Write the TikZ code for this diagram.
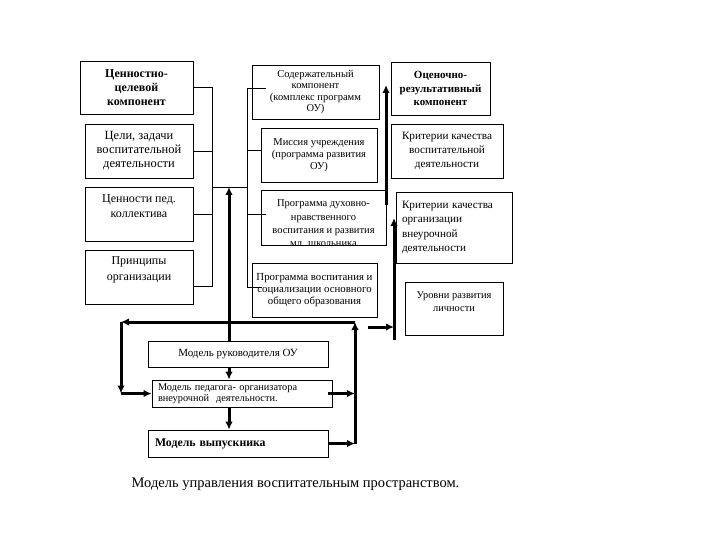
\documentclass[tikz,border=0pt]{standalone}
\usepackage{fontspec}
\setmainfont{Liberation Serif}
\usetikzlibrary{arrows.meta,positioning}

\begin{document}
\begin{tikzpicture}[x=1pt,y=-1pt,
  box/.style={draw,line width=0.7pt,inner sep=2pt,align=center},
  ln/.style={line width=0.7pt},
  thk/.style={line width=3pt},
  tip/.style={-{Latex[length=8pt,width=7.5pt]}},
  txt_l/.style={font=\fontsize{12}{14}\selectfont},
  txt_m/.style={font=\fontsize{11.2}{14}\selectfont},
  txt_s/.style={font=\fontsize{10.5}{12}\selectfont}]
   \useasboundingbox (0,0) rectangle (720,540);
   \node[box,font=\bfseries\fontsize{12}{14}\selectfont,minimum width=113pt,minimum height=53pt] (l_1) at (136.5,87.5) {Ценностно-\\целевой\\компонент};
   \node[box,font=\fontsize{12.5}{14}\selectfont,minimum width=108pt,minimum height=54pt] (l_2) at (139,151) {Цели, задачи\\воспитательной\\деятельности};
   \node[box,font=\fontsize{12}{15}\selectfont,minimum width=108pt,minimum height=54pt] (l_3) at (139,214) {Ценности пед.\\коллектива\\\mbox{}};
   \node[box,font=\fontsize{12}{16}\selectfont,minimum width=108pt,minimum height=54pt] (l_4) at (139,277) {Принципы\\организации\\\mbox{}};
   \node[box,font=\fontsize{10.5}{11.5}\selectfont,minimum width=127pt,minimum height=54pt] (c_1) at (315.5,92) {Содержательный\\компонент\\(комплекс программ\\ОУ)};
   \node[box,txt_s,minimum width=116pt,minimum height=54pt] (c_2) at (319,155) {Миссия учреждения\\(программа развития\\ОУ)};
   \node[box,minimum width=125pt,minimum height=55pt] (c_3) at (323.5,217.5) {};
   \begin{scope}
     \clip (c_3.south west) rectangle (c_3.north east);
     \node[font=\fontsize{10.5}{13.3}\selectfont,align=center] (c_3t) at ([yshift=-6pt]c_3.center) {Программа духовно-\\нравственного\\воспитания и развития\\мл. школьника};
   \end{scope}
   \node[box,font=\fontsize{10.8}{12}\selectfont,minimum width=125pt,minimum height=54pt] (c_4) at (314.5,290) {Программа воспитания и\\социализации основного\\общего образования};
   \node[box,font=\bfseries\fontsize{11}{13.5}\selectfont,minimum width=99pt,minimum height=53pt] (r_1) at (440.5,88.5) {Оценочно-\\результативный\\компонент};
   \node[box,txt_m,minimum width=112pt,minimum height=54pt] (r_2) at (447,151) {Критерии качества\\воспитательной\\деятельности};
   \node[box,font=\fontsize{11.2}{14.5}\selectfont,align=left,text width=104pt,inner xsep=6pt,minimum height=71pt] (r_3) at (454,227.5) {Критерии качества\\организации\\внеурочной\\деятельности};
   \node[box,font=\fontsize{10.4}{13}\selectfont,minimum width=98pt,minimum height=53pt] (r_4) at (454,308.5) {Уровни развития\\личности\\\mbox{}};
   \node[box,font=\fontsize{11}{13}\selectfont,minimum width=180pt,minimum height=26pt] (m_1) at (238,354) {Модель руководителя ОУ};
   \node[box,font=\fontsize{10.3}{11}\selectfont,align=left,text width=168pt,inner xsep=6pt,minimum height=27pt] (m_2) at (242,393.5) {Модель педагога- организатора\\внеурочной\ \ деятельности.};
   \node[box,font=\bfseries\fontsize{11.8}{14}\selectfont,align=left,text width=166pt,inner xsep=7pt,minimum height=27pt] (m_3) at (238,443.5) {Модель выпускника};
   \node[font=\fontsize{14.5}{16}\selectfont] (title) at (295.5,484) {Модель управления воспитательным пространством.};
   \coordinate (j_l) at (212,187);
   \coordinate (j_r) at (247,187);
   \coordinate (a_1) at (229,187);
   \coordinate (a_2) at (386,85);
   \coordinate (a_2s) at (386,205);
   \coordinate (a_3) at (394,218);
   \coordinate (a_3s) at (394,340);
   \coordinate (a_4s) at (368,327);
   \coordinate (o_ne) at (355,322);
   \coordinate (o_nw) at (121,322);
   \draw[ln] (l_1.east) -| (j_l);
   \draw[ln] (l_2.east) -| (j_l);
   \draw[ln] (l_3.east) -| (j_l);
   \draw[ln] ([yshift=-9pt]l_4.east) -| (j_l);
   \draw[ln] (j_l) -- (j_r);
   \draw[ln] (j_r) |- ([xshift=14pt,yshift=4pt]c_1.west);
   \draw[ln] (j_r) |- ([xshift=1pt,yshift=5pt]c_2.west);
   \draw[ln] (j_r) |- ([xshift=5pt,yshift=3.5pt]c_3.west);
   \draw[ln] (j_r) |- ([xshift=10pt,yshift=3pt]c_4.west);
   \draw[thk,tip] (a_1 |- m_1.north) -- (a_1);
   \draw[thk,tip] (a_2s) -- (a_2);
   \draw[thk,tip] (a_3s) -- (a_3);
   \draw[thk,tip] (a_4s) -- (a_3 |- a_4s);
   \draw[thk,tip] (o_ne |- m_3.east) -- (o_ne);
   \draw[thk,tip] (o_ne) -- (o_nw);
   \draw[thk,tip] (o_nw) -- (o_nw |- m_2.west);
   \draw[thk,tip] (o_nw |- m_2.west) -- (m_2.west);
   \draw[thk,tip] (a_1 |- m_1.south) -- (a_1 |- m_2.north);
   \draw[thk,tip] (a_1 |- m_2.south) -- (a_1 |- m_3.north);
   \draw[thk,tip] ([xshift=-4pt]m_2.east) -- (o_ne |- m_2.east);
   \draw[thk,tip] (m_3.east) -- (o_ne |- m_3.east);
\end{tikzpicture}
\end{document}
